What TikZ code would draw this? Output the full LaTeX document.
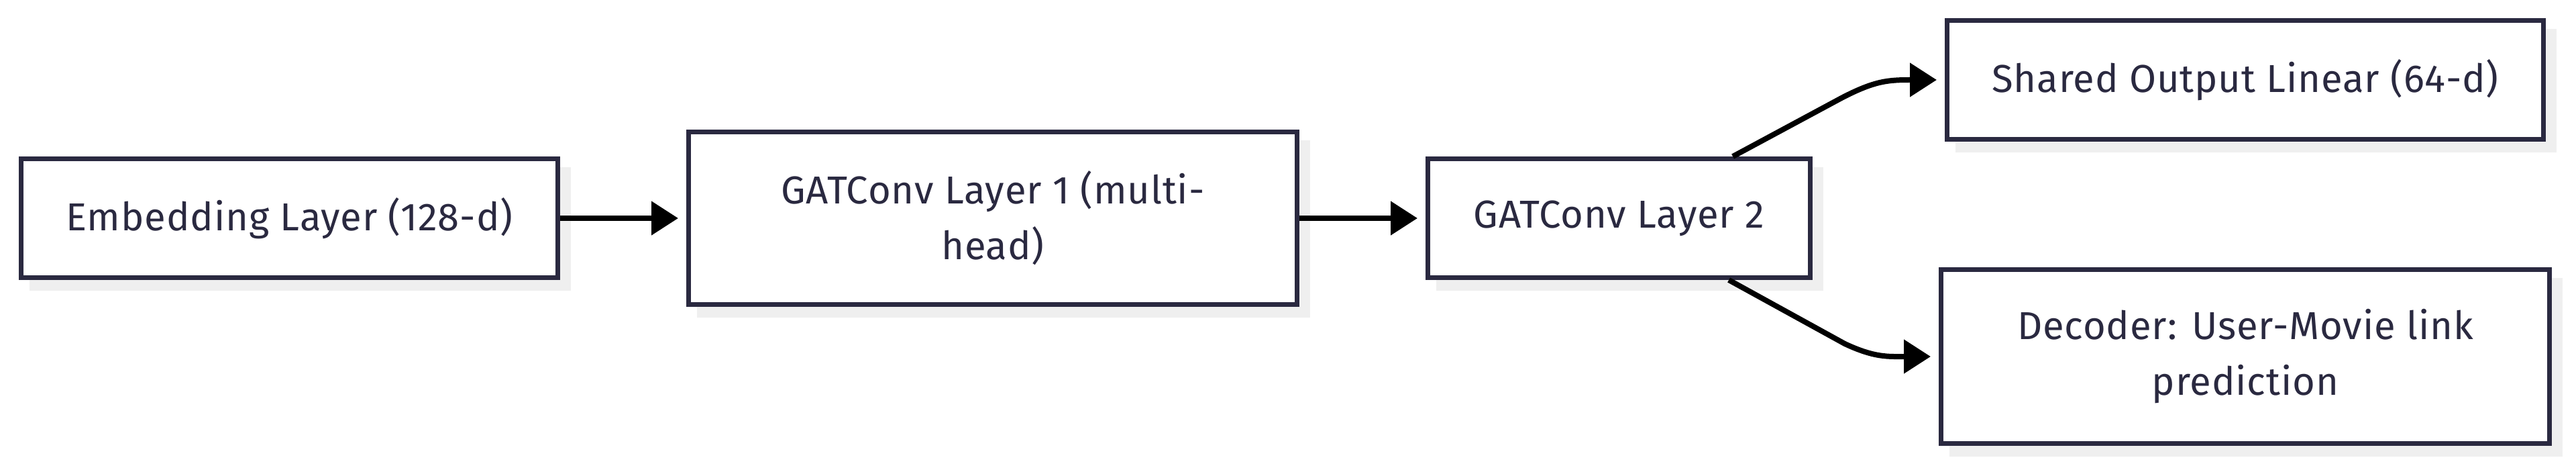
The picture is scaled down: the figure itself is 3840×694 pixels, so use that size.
\documentclass[tikz,border=0pt]{standalone}
\usepackage{fontspec}
\setmainfont{Fira Sans}[LetterSpace=1.5]
\usetikzlibrary{arrows.meta,backgrounds,calc}
\definecolor{boxline}{HTML}{2A2940}
\definecolor{txt}{HTML}{2A2940}
\definecolor{shadowgray}{HTML}{EFEFEF}
\begin{document}
\begin{tikzpicture}[x=0.25pt,y=-0.25pt,
  blk/.style={draw=boxline, line width=1.75pt, fill=white, text=txt,
    font=\fontsize{14.5pt}{20.75pt}\selectfont, align=center, inner sep=0pt},
  link/.style={draw=black, line width=2pt,
    -{Triangle[length=10pt,width=12.25pt]}, shorten >=3pt}]
\useasboundingbox (0,0) rectangle (3840,694);
\node[blk, minimum width=200pt, minimum height=44.25pt] (emb) at (431.5,325) {Embedding Layer (128-d)};
\node[blk, minimum width=226.75pt, minimum height=64.25pt] (g1) at (1480,325) {GATConv Layer 1 (multi-\\head)};
\node[blk, minimum width=142.5pt, minimum height=44.25pt] (g2) at (2413.5,325) {GATConv Layer 2};
\node[blk, minimum width=222.25pt, minimum height=44.25pt] (sh) at (3347,119) {Shared Output Linear (64-d)};
\node[blk, minimum width=226.75pt, minimum height=64.75pt] (dec) at (3347,531) {Decoder: User-Movie link\\prediction};
\begin{scope}[on background layer]
  \fill[white] (0,0) rectangle (3840,694);
  \foreach \n in {emb,g1,g2,sh,dec}
    \fill[shadowgray] ($(\n.south west)+(16,16)$) rectangle ($(\n.north east)+(16,16)$);
\end{scope}
\draw[link] (emb) -- (g1);
\draw[link] (g1) -- (g2);
\draw[link] ([xshift=42.4pt]g2.north) -- (2745,146) .. controls (2795,120) and (2815,119) .. (sh.west);
\draw[link] ([xshift=40.9pt]g2.south) -- (2750,512) .. controls (2795,533) and (2815,531) .. (dec.west);
\end{tikzpicture}
\end{document}
